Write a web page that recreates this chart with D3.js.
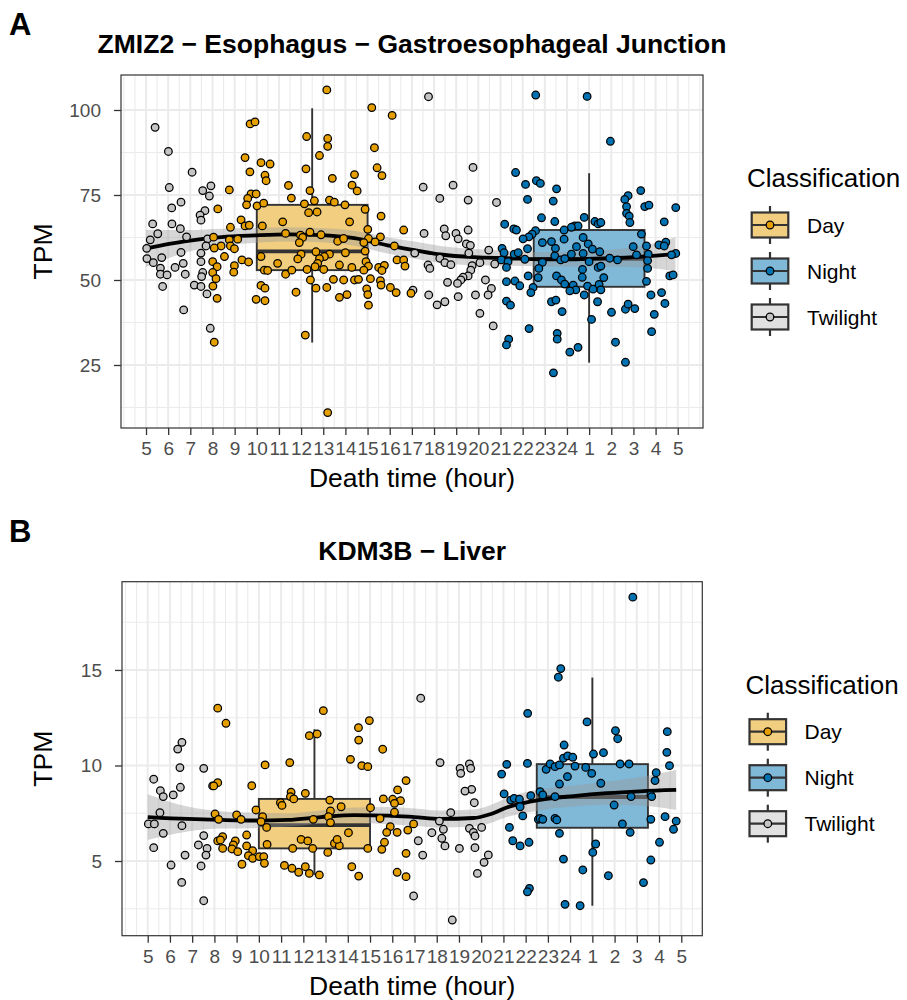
<!DOCTYPE html>
<html><head><meta charset="utf-8">
<script src="https://cdn.jsdelivr.net/npm/d3@7"></script>
<style>body{margin:0;background:#fff} text{font-family:"Liberation Sans",Arial,Helvetica,sans-serif}</style>
</head><body><svg id="c" width="907" height="1000"></svg>
<script>
// ---------- DATA ----------
const hourTicks = d3.range(5, 30);
const hourLabels = ["5","6","7","8","9","10","11","12","13","14","15","16","17","18","19","20","21","22","23","24","1","2","3","4","5"];
const classes = ["Day","Night","Twilight"];

// Panel A: ZMIZ2 - Esophagus - Gastroesophageal Junction  [hour, TPM]
const aDay = [[13.16,105.9],[15.19,100.7],[16.11,98.4],[9.70,95.9],[9.92,96.5],[12.25,92.2],[13.2,91.6],[13.2,89.3],[15.31,88.9],
[12.83,86.6],[9.47,86.0],[10.19,84.5],[10.6,84.1],[12.22,82.7],[15.43,83.0],[9.69,81.8],[10.37,80.8],[10.42,79.2],[14.41,81.0],
[15.65,80.7],[13.41,79.9],[11.43,77.8],[14.3,77.9],[14.53,76.2],[8.76,76.5],[12.4,76.3],[9.74,75.3],[9.97,75.3],[9.59,74.0],
[9.54,72.1],[10.01,71.8],[10.31,72.6],[11.56,74.1],[12.15,72.4],[12.6,73.3],[13.28,73.5],[13.5,72.9],[13.98,72.1],[14.89,70.8],
[8.24,70.9],[12.34,69.8],[12.72,70.0],[15.61,68.8],[9.29,67.7],[11.17,67.1],[14.19,67.1],[8.81,65.5],[9.47,65.9],[9.66,66.1],
[10.25,65.9],[16.63,64.7],[15.01,64.9],[11.3,63.7],[11.97,63.2],[12.4,64.1],[12.9,63.3],[8.05,62.6],[9.14,62.0],[8.39,60.0],
[8.76,61.8],[8.81,60.0],[8.99,59.2],[8.08,59.4],[12.07,62.5],[11.92,61.0],[13.65,61.4],[13.92,62.2],[15.04,62.2],[14.83,61.0],
[15.58,62.7],[15.34,61.2],[16.21,60.0],[14.89,58.5],[14.0,58.0],[12.67,58.3],[12.0,57.6],[11.85,56.2],[10.19,56.9],[13.28,57.6],
[13.05,56.9],[12.83,56.3],[12.75,54.9],[9.33,55.9],[9.63,55.3],[8.54,56.9],[8.01,55.4],[8.21,53.9],[8.01,52.2],[8.16,50.4],
[8.02,48.2],[8.21,44.6],[8.99,54.2],[8.96,52.3],[10.94,54.9],[12.27,53.1],[12.63,53.9],[13.02,53.1],[13.73,54.4],[14.29,53.7],
[14.93,55.4],[15.04,54.1],[14.83,52.9],[15.5,53.7],[15.76,54.3],[15.65,52.8],[16.33,55.9],[16.63,55.9],[16.69,54.1],[10.34,52.9],
[10.49,52.8],[11.3,51.7],[11.58,52.9],[12.42,50.0],[12.67,47.6],[13.46,50.2],[13.16,47.8],[13.92,50.0],[14.41,50.0],[14.59,50.2],
[15.13,50.4],[15.58,49.8],[15.61,48.5],[16.03,47.8],[16.29,46.3],[16.96,46.1],[14.96,47.4],[15.01,45.7],[15.04,42.6],[10.19,48.4],
[10.37,47.6],[9.97,44.3],[10.37,43.9],[11.77,46.4],[13.73,44.9],[14.07,45.7],[12.19,33.8],[8.08,31.7],[13.2,11.0]];
const aNight = [[22.59,104.4],[24.91,104.0],[25.96,90.8],[21.68,81.6],[22.13,78.1],[22.62,79.2],[22.8,78.4],[23.53,76.8],[22.22,73.7],
[23.38,73.2],[27.33,76.3],[26.76,74.8],[26.61,73.7],[26.69,71.6],[27.51,71.6],[27.7,72.0],[28.91,71.3],[26.69,69.6],[26.81,68.8],
[28.39,67.1],[26.84,66.9],[22.85,68.3],[23.45,67.2],[24.78,68.4],[25.26,67.2],[25.41,66.5],[25.53,66.9],[24.35,65.9],[24.5,65.9],
[24.2,65.5],[23.87,64.7],[21.19,66.4],[21.6,65.0],[21.72,64.7],[22.58,64.5],[22.43,63.5],[22.28,62.7],[22.02,62.1],[23.87,62.0],
[24.73,62.5],[27.36,63.5],[22.89,61.0],[23.3,61.3],[23.48,59.3],[24.43,59.8],[24.96,60.6],[25.15,59.1],[25.48,58.3],[26.99,59.8],
[27.14,57.4],[27.59,60.0],[27.67,57.6],[28.15,60.3],[28.46,61.1],[28.39,60.0],[28.91,57.8],[28.72,57.4],[21.07,59.3],[21.16,58.0],
[21.62,57.6],[21.8,58.0],[22.22,59.2],[21.04,55.9],[21.34,55.4],[22.1,56.1],[22.89,55.2],[23.45,57.1],[23.72,55.9],[23.9,56.3],
[24.2,57.6],[24.73,57.8],[25.0,55.4],[25.41,53.7],[25.53,54.1],[25.93,56.4],[26.28,55.9],[27.64,55.7],[21.27,53.7],[22.73,53.4],
[22.7,50.7],[22.25,51.2],[24.7,53.1],[24.69,50.8],[25.66,50.7],[23.53,51.2],[23.75,50.0],[23.9,48.8],[24.28,48.5],[24.4,47.1],
[24.13,46.8],[24.93,48.2],[25.18,47.3],[25.45,48.7],[25.53,47.1],[27.64,53.4],[27.59,49.6],[21.27,49.5],[21.65,49.7],[21.87,48.3],
[22.47,47.8],[22.37,46.3],[28.64,51.2],[28.79,51.5],[24.78,45.6],[25.38,43.6],[21.27,43.8],[21.45,42.6],[23.3,43.6],[23.5,44.1],
[23.78,40.7],[26.01,40.5],[26.64,41.4],[26.76,42.9],[27.06,41.6],[27.79,45.6],[28.27,46.3],[28.42,43.1],[27.94,39.9],[25.11,38.4],
[22.29,35.7],[27.82,34.8],[23.56,34.3],[23.56,32.6],[21.37,32.6],[21.27,30.9],[24.13,28.8],[24.5,30.2],[26.19,31.7],[26.64,25.8],
[23.39,22.7]];
const aTwilight = [[5.41,94.9],[6.01,87.8],[7.08,81.7],[6.05,77.2],[7.93,77.7],[7.56,76.3],[7.86,74.7],[6.58,72.9],[6.16,71.2],
[7.66,70.4],[7.44,69.1],[7.48,67.6],[5.3,66.5],[6.17,66.5],[6.55,65.1],[5.53,63.6],[6.83,62.7],[5.19,61.8],[7.78,62.1],[5.03,59.3],
[7.71,60.0],[6.58,58.1],[7.48,57.9],[5.04,56.3],[5.71,56.6],[5.33,55.1],[6.68,54.9],[7.48,55.4],[6.31,53.7],[5.65,53.5],[5.65,51.7],
[5.95,51.5],[6.77,51.7],[7.56,52.2],[7.51,51.0],[7.18,48.5],[7.48,48.1],[5.75,48.1],[7.75,45.9],[6.7,41.2],[7.9,35.8],
[17.75,103.9],[19.76,83.1],[17.51,77.3],[18.86,77.9],[18.26,74.0],[19.54,73.5],[20.82,72.8],[17.55,63.7],[18.46,65.0],[18.53,63.0],
[18.99,63.7],[19.09,62.1],[19.54,64.7],[19.46,60.6],[19.64,60.2],[19.57,57.9],[20.47,58.8],[17.13,57.9],[18.26,56.4],[18.49,55.1],
[18.76,54.5],[17.73,54.4],[17.81,53.4],[19.72,54.2],[20.07,55.1],[20.74,54.7],[19.66,52.9],[19.54,51.2],[19.31,50.8],[19.21,50.0],
[19.06,49.0],[18.61,49.3],[20.32,50.0],[20.59,47.5],[20.44,45.6],[17.76,45.6],[19.09,45.1],[19.87,45.6],[18.49,43.6],[18.14,42.7],
[20.07,40.2],[20.67,36.5],[17.05,47.0]];
// boxplot stats: [center hour, whisker low, q1, median, q3, whisker high]
const aBoxDay = [12.5, 31.6, 52.9, 58.4, 72.1, 100.5];
const aBoxNight = [25, 25.7, 48.0, 56.2, 64.7, 81.4];
const aSmoothHour = [5.0,6.9,8.4,9.9,11.4,12.9,14.4,15.9,17.1,18.3,19.8,21.3,22.9,24.4,25.9,27.4,28.9];
const aSmoothFit  = [59.3,61.5,62.6,63.1,63.4,63.2,62.3,60.2,58.8,57.5,56.7,56.4,56.1,56.1,56.4,56.9,57.6];
const aSmoothSe   = [5.5,3.2,2.5,2.2,2.1,2.1,2.2,2.4,2.5,2.5,2.4,2.2,2.1,2.2,2.5,3.2,5.0];
const aYTicks = [25,50,75,100];

// Panel B: KDM3B - Liver
const bDay = [[8.15,13.0],[8.52,12.21],[12.9,12.87],[14.97,12.35],[14.48,11.98],[14.49,11.33],[12.27,11.56],[12.62,11.65],[15.57,10.85],
[10.28,10.03],[11.39,10.15],[14.12,10.32],[14.63,9.99],[14.9,9.94],[8.15,9.1],[7.97,8.93],[9.68,8.94],[16.62,9.21],[16.24,8.72],
[12.09,8.54],[11.45,8.6],[11.42,8.37],[11.57,8.25],[10.97,8.05],[11.04,7.91],[13.19,8.19],[13.7,7.84],[13.22,7.62],[15.6,8.25],
[16.02,8.23],[16.37,8.16],[16.1,8.02],[16.1,7.55],[9.87,7.67],[15.02,7.79],[8.03,7.46],[8.19,7.18],[9.0,7.41],[9.2,7.18],[10.17,7.32],
[10.1,7.06],[10.35,6.76],[12.45,7.18],[13.13,7.32],[13.22,7.01],[15.45,7.23],[15.91,6.8],[15.75,6.5],[16.22,6.5],[16.7,6.62],
[16.96,6.94],[14.03,6.48],[8.37,6.27],[8.15,6.05],[8.27,6.1],[8.94,6.05],[9.45,6.36],[8.85,5.84],[9.45,5.79],[8.79,5.63],[8.37,5.66],
[9.05,5.49],[9.72,5.54],[9.53,5.28],[9.72,5.14],[10.02,5.23],[10.22,5.23],[10.37,5.87],[11.9,6.13],[12.2,6.05],[12.42,5.66],
[11.52,5.66],[13.4,5.92],[13.62,5.8],[13.52,6.13],[13.1,5.45],[14.9,5.66],[15.53,5.61],[15.65,5.98],[16.62,5.4],[9.24,4.83],
[10.25,4.88],[11.15,4.77],[11.49,4.62],[11.79,4.41],[12.09,4.7],[12.27,4.35],[12.72,4.27],[14.18,4.7],[14.49,4.21],[16.22,4.41],
[16.62,4.18]];
const bNight = [[26.82,18.81],[23.58,15.07],[23.47,14.62],[22.09,12.73],[24.76,12.28],[26.04,11.82],[26.14,11.4],[28.37,11.77],
[23.73,11.07],[20.92,9.55],[21.15,10.06],[22.08,10.11],[22.92,9.8],[23.1,10.08],[23.32,9.94],[23.52,10.03],[23.7,10.38],[23.89,10.5],
[24.12,10.43],[24.22,9.97],[24.7,9.9],[24.97,9.59],[25.05,10.6],[25.5,10.67],[26.25,10.08],[26.65,10.08],[28.35,10.69],[28.47,9.99],
[25.38,9.07],[23.52,9.03],[23.88,9.42],[21.03,8.51],[21.33,8.19],[21.48,8.28],[21.72,8.23],[22.23,8.42],[22.65,8.63],[22.77,8.46],
[23.32,8.37],[21.75,7.84],[21.87,7.36],[22.57,7.18],[22.65,7.23],[22.77,7.18],[23.32,7.23],[23.4,7.15],[25.98,7.93],[26.74,8.37],
[27.63,8.46],[27.67,8.37],[27.87,9.62],[27.82,9.21],[27.63,7.18],[28.27,7.32],[28.77,7.09],[28.65,6.66],[26.35,6.94],[26.7,6.5],
[23.52,6.45],[21.27,6.76],[21.42,6.06],[21.75,5.79],[22.15,5.98],[28.02,5.98],[25.02,5.45],[25.15,5.89],[23.7,5.1],[27.63,5.05],
[24.57,4.53],[25.72,4.23],[27.3,3.87],[22.17,3.57],[22.08,3.39],[23.77,2.73],[24.45,2.66]];
const bTwilight = [[6.54,11.21],[6.35,10.86],[6.45,9.89],[7.52,9.85],[5.27,9.28],[5.57,8.68],[5.7,8.37],[6.15,8.46],[6.47,8.86],
[7.92,8.93],[5.55,7.53],[5.03,6.94],[5.3,6.94],[6.54,6.85],[5.7,6.45],[7.52,6.33],[7.28,5.84],[7.67,5.66],[5.27,5.7],[6.68,5.31],
[7.62,5.31],[6.05,4.79],[7.4,4.74],[6.53,3.88],[7.52,2.92],[16.96,3.17],[17.28,13.52],[17.17,6.06],[17.37,5.31],[17.78,6.48],
[18.15,10.15],[18.63,7.53],[18.12,7.09],[18.3,6.66],[18.23,6.19],[18.37,5.79],[19.02,5.66],[18.7,1.91],[19.05,9.85],[19.08,9.59],
[19.47,10.08],[19.53,9.85],[19.57,8.75],[19.27,8.66],[19.69,8.05],[19.47,6.71],[20.02,6.76],[19.65,6.5],[19.72,6.31],[19.72,5.7],
[20.32,5.32],[20.13,4.93],[19.83,4.35]];
const bBoxDay = [12.5, 4.27, 5.66, 6.88, 8.25, 11.9];
const bBoxNight = [25, 2.66, 6.74, 8.35, 10.07, 14.6];
const bSmoothHour = [5.0,6.8,8.3,9.8,11.3,12.8,14.3,15.8,17.0,18.15,19.65,20.4,21.15,22.65,24.15,25.65,27.15,28.77];
const bSmoothFit  = [7.3,7.2,7.15,7.12,7.15,7.3,7.4,7.38,7.3,7.2,7.25,7.45,7.8,8.2,8.4,8.55,8.65,8.72];
const bSmoothSe   = [1.2,0.65,0.45,0.4,0.35,0.35,0.4,0.45,0.45,0.45,0.45,0.47,0.5,0.55,0.55,0.6,0.75,1.05];
const bYTicks = [5,10,15];

// ---------- STYLE ----------
const fillPt = {Day:"#E69F00", Night:"#0072B2", Twilight:"#C4C4C4"};
const fillBox = {Day:"#F2CF80", Night:"#80B8D8", Twilight:"#E1E1E1"};
const svg = d3.select("#c");

const panels = [
 {tag:"A", title:"ZMIZ2 − Esophagus − Gastroesophageal Junction", left:121, right:703, top:75, bottom:428,
  xd:[3.871,30.14], yd:[6.47,110.29], yt:aYTicks, day:aDay, night:aNight, tw:aTwilight, boxes:[["Day",aBoxDay],["Night",aBoxNight]],
  sh:aSmoothHour, sf:aSmoothFit, ss:aSmoothSe, legX:747, keyX:751.7, labX:807},
 {tag:"B", title:"KDM3B − Liver", left:122, right:702.3, top:581.7, bottom:935.7,
  xd:[3.844,29.945], yd:[1.09,19.62], yt:bYTicks, day:bDay, night:bNight, tw:bTwilight, boxes:[["Day",bBoxDay],["Night",bBoxNight]],
  sh:bSmoothHour, sf:bSmoothFit, ss:bSmoothSe, legX:745.5, keyX:749.5, labX:804.5}
];

panels.forEach(p => {
  const g = svg.append("g");
  const x = d3.scaleLinear().domain(p.xd).range([p.left, p.right]);
  const y = d3.scaleLinear().domain(p.yd).range([p.bottom, p.top]);
  const cx = (p.left + p.right) / 2, cy = (p.top + p.bottom) / 2;

  // tag + title
  g.append("text").attr("x", 9).attr("y", p.top - 40).attr("font-size", 31).attr("font-weight", "bold").text(p.tag);
  g.append("text").attr("x", cx).attr("y", p.top - 22).attr("text-anchor", "middle").attr("font-size", 26.5)
    .attr("font-weight", "bold").text(p.title);

  // grid
  const grid = g.append("g");
  const xMinor = d3.range(4, 30.01, 0.5).filter(v => !(Number.isInteger(v) && v >= 5 && v <= 29) && v >= p.xd[0] && v <= p.xd[1]);
  const step = p.yt[1] - p.yt[0];
  const yExt = [p.yt[0] - step, ...p.yt, p.yt[p.yt.length - 1] + step];
  const yMinor = d3.pairs(yExt).map(([a, b]) => (a + b) / 2).filter(v => v > p.yd[0] && v < p.yd[1]);
  grid.selectAll(".xm").data(xMinor).join("line").attr("x1", d => x(d)).attr("x2", d => x(d))
    .attr("y1", p.top).attr("y2", p.bottom).attr("stroke", "#EBEBEB").attr("stroke-width", 1.1);
  grid.selectAll(".ym").data(yMinor).join("line").attr("y1", d => y(d)).attr("y2", d => y(d))
    .attr("x1", p.left).attr("x2", p.right).attr("stroke", "#EBEBEB").attr("stroke-width", 1.1);
  grid.selectAll(".xM").data(hourTicks).join("line").attr("x1", d => x(d)).attr("x2", d => x(d))
    .attr("y1", p.top).attr("y2", p.bottom).attr("stroke", "#EBEBEB").attr("stroke-width", 2);
  grid.selectAll(".yM").data(p.yt).join("line").attr("y1", d => y(d)).attr("y2", d => y(d))
    .attr("x1", p.left).attr("x2", p.right).attr("stroke", "#EBEBEB").attr("stroke-width", 2);

  // boxplots
  const bw = 5;
  p.boxes.forEach(([cls, s]) => {
    const [c, lo, q1, md, q3, hi] = s;
    const bg = g.append("g").attr("stroke", "#333333").attr("stroke-width", 1.9);
    bg.append("line").attr("x1", x(c)).attr("x2", x(c)).attr("y1", y(hi)).attr("y2", y(q3));
    bg.append("line").attr("x1", x(c)).attr("x2", x(c)).attr("y1", y(q1)).attr("y2", y(lo));
    bg.append("rect").attr("x", x(c - bw / 2)).attr("width", x(c + bw / 2) - x(c - bw / 2))
      .attr("y", y(q3)).attr("height", y(q1) - y(q3)).attr("fill", fillBox[cls]);
    bg.append("line").attr("x1", x(c - bw / 2)).attr("x2", x(c + bw / 2)).attr("y1", y(md)).attr("y2", y(md))
      .attr("stroke-width", 3.8);
  });

  // smooth ribbon + line
  const sm = p.sh.map((h, i) => ({h, f: p.sf[i], se: p.ss[i]}));
  g.append("path").datum(sm).attr("fill", "#999999").attr("fill-opacity", 0.4)
    .attr("d", d3.area().x(d => x(d.h)).y0(d => y(d.f - d.se)).y1(d => y(d.f + d.se)).curve(d3.curveMonotoneX));
  g.append("path").datum(sm).attr("fill", "none").attr("stroke", "#000").attr("stroke-width", 3.8)
    .attr("d", d3.line().x(d => x(d.h)).y(d => y(d.f)).curve(d3.curveMonotoneX));

  // points
  const pts = [...p.tw.map(d => ["Twilight", d]), ...p.day.map(d => ["Day", d]), ...p.night.map(d => ["Night", d])];
  g.append("g").selectAll("circle").data(pts).join("circle")
    .attr("cx", d => x(d[1][0])).attr("cy", d => y(d[1][1])).attr("r", 3.8)
    .attr("fill", d => fillPt[d[0]]).attr("stroke", "#000").attr("stroke-width", 1.25);

  // border
  g.append("rect").attr("x", p.left).attr("y", p.top).attr("width", p.right - p.left).attr("height", p.bottom - p.top)
    .attr("fill", "none").attr("stroke", "#333333").attr("stroke-width", 1.2);

  // axes
  const ax = g.append("g").attr("transform", `translate(0,${p.bottom})`)
    .call(d3.axisBottom(x).tickValues(hourTicks).tickFormat((d, i) => hourLabels[i]).tickSize(7).tickPadding(7));
  const ay = g.append("g").attr("transform", `translate(${p.left},0)`)
    .call(d3.axisLeft(y).tickValues(p.yt).tickSize(7).tickPadding(13));
  [ax, ay].forEach(a => {
    a.select(".domain").remove();
    a.selectAll(".tick line").attr("stroke", "#333333").attr("stroke-width", 1.3);
    a.selectAll(".tick text").attr("fill", "#4D4D4D").attr("font-size", 19)
      .attr("font-family", '"Liberation Sans",Arial,sans-serif');
  });

  // axis titles
  g.append("text").attr("x", cx).attr("y", p.bottom + 59).attr("text-anchor", "middle").attr("font-size", 26.5)
    .text("Death time (hour)");
  g.append("text").attr("transform", `translate(52,${cy}) rotate(-90)`).attr("text-anchor", "middle")
    .attr("font-size", 26.5).text("TPM");

  // legend
  const lg = g.append("g");
  lg.append("text").attr("x", p.legX).attr("y", p.top + 112).attr("font-size", 26).text("Classification");
  classes.forEach((cls, i) => {
    const ty = p.top + 137.5 + i * 46, kw = 36.6, kh = 25, kc = p.keyX + kw / 2;
    const k = lg.append("g").attr("stroke", "#333333").attr("stroke-width", 2.2);
    k.append("line").attr("x1", kc).attr("x2", kc).attr("y1", ty - 6.5).attr("y2", ty + kh + 6.5);
    k.append("rect").attr("x", p.keyX).attr("y", ty).attr("width", kw).attr("height", kh).attr("fill", fillBox[cls]);
    k.append("line").attr("x1", p.keyX).attr("x2", p.keyX + kw).attr("y1", ty + kh / 2).attr("y2", ty + kh / 2);
    lg.append("circle").attr("cx", kc).attr("cy", ty + kh / 2).attr("r", 3.8).attr("fill", fillPt[cls])
      .attr("stroke", "#000").attr("stroke-width", 1.25);
    lg.append("text").attr("x", p.labX).attr("y", ty + kh / 2 + 7.5).attr("font-size", 21).text(cls);
  });
});
</script></body></html>
